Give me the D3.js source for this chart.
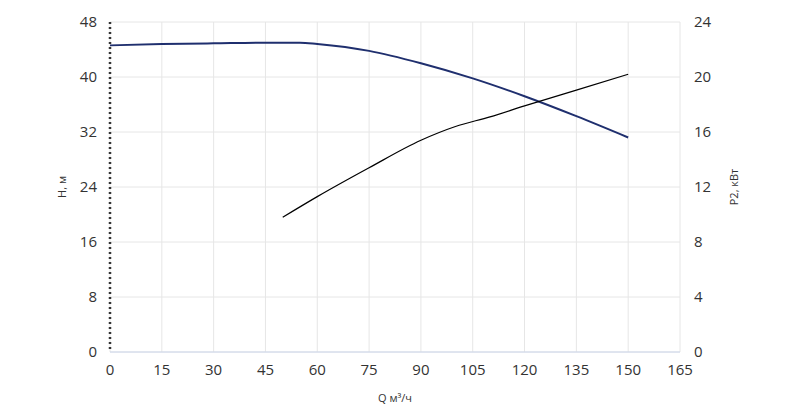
<!DOCTYPE html><html><head><meta charset="utf-8"><script src="https://cdn.jsdelivr.net/npm/d3@7"></script>
<style>body{margin:0;background:#fff}text{font-family:"Open Sans",sans-serif}</style></head><body><svg id="c" width="800" height="408"></svg><script>
const xTicks=[0,15,30,45,60,75,90,105,120,135,150,165];
const hTicks=[0,8,16,24,32,40,48];
const pTicks=[0,4,8,12,16,20,24];
const hQ=[0,15,30,45,55,60,75,90,105,120,135,150];
const hVal=[44.6,44.8,44.9,45.0,45.0,44.8,43.8,42.0,39.8,37.2,34.3,31.2];
const pQ=[50,60,75,90,100,110,120,135,150];
const pVal=[9.8,11.3,13.4,15.4,16.4,17.1,17.9,19.05,20.2];
const svg=d3.select("#c");
const x=d3.scaleLinear().domain([0,165]).range([110,680]);
const yH=d3.scaleLinear().domain([0,48]).range([352,22]);
const yP=d3.scaleLinear().domain([0,24]).range([352,22]);
const g=svg.append("g");
xTicks.forEach(t=>g.append("line").attr("x1",x(t)).attr("x2",x(t)).attr("y1",22).attr("y2",352).attr("stroke","#e6e6e6"));
hTicks.forEach(t=>g.append("line").attr("x1",110).attr("x2",680).attr("y1",yH(t)).attr("y2",yH(t)).attr("stroke","#e6e6e6"));
g.append("line").attr("x1",110).attr("x2",680).attr("y1",352).attr("y2",352).attr("stroke","#ccd6eb");
xTicks.forEach(t=>g.append("text").attr("x",x(t)).attr("y",375).attr("text-anchor","middle").attr("font-size",15).attr("fill","#333").text(t));
hTicks.forEach(t=>g.append("text").attr("x",97).attr("y",yH(t)+5).attr("text-anchor","end").attr("font-size",15).attr("fill","#333").text(t));
pTicks.forEach(t=>g.append("text").attr("x",694).attr("y",yP(t)+5).attr("font-size",15).attr("fill","#333").text(t));
g.append("line").attr("x1",110).attr("x2",110).attr("y1",22).attr("y2",352).attr("stroke","#333").attr("stroke-width",2.5).attr("stroke-dasharray","2,3");
svg.append("text").attr("x",395).attr("y",402).attr("text-anchor","middle").attr("font-size",11).attr("fill","#333").text("Q м³/ч");
svg.append("text").attr("transform","translate(66,187) rotate(-90)").attr("text-anchor","middle").attr("font-size",11).attr("fill","#333").text("H, м");
svg.append("text").attr("transform","translate(738,187) rotate(-90)").attr("text-anchor","middle").attr("font-size",11).attr("fill","#333").text("P2, кВт");
const lh=d3.line().x(d=>x(d[0])).y(d=>yH(d[1])).curve(d3.curveMonotoneX);
svg.append("path").attr("d",lh(hQ.map((q,i)=>[q,hVal[i]]))).attr("fill","none").attr("stroke","#1f2f6e").attr("stroke-width",2);
const lp=d3.line().x(d=>x(d[0])).y(d=>yP(d[1])).curve(d3.curveMonotoneX);
svg.append("path").attr("d",lp(pQ.map((q,i)=>[q,pVal[i]]))).attr("fill","none").attr("stroke","#000").attr("stroke-width",1.2);
</script></body></html>
